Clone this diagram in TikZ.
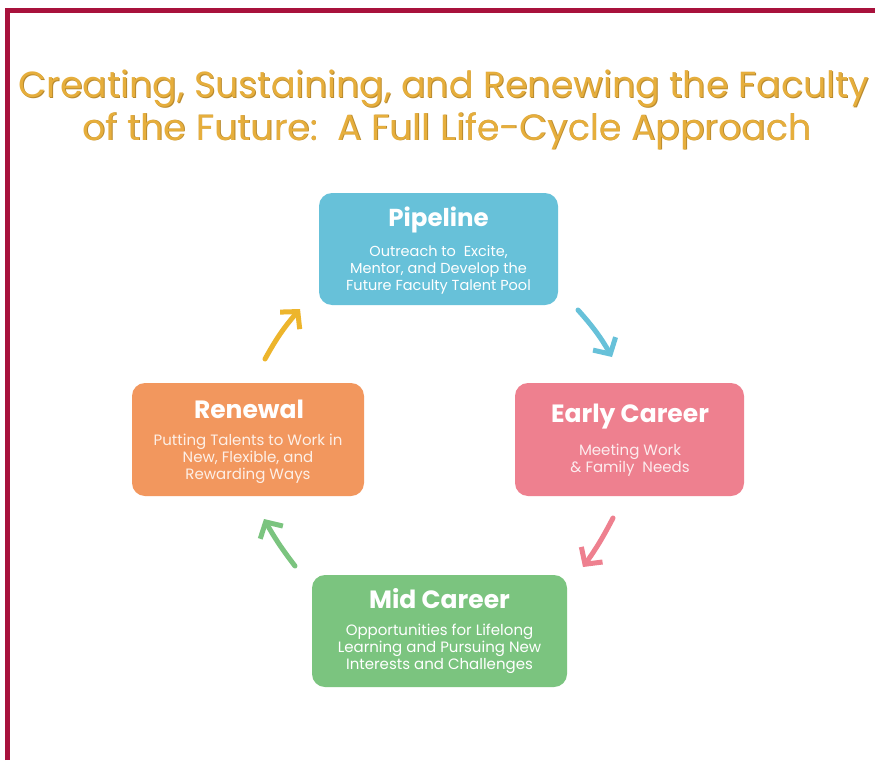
\documentclass[tikz,border=0pt]{standalone}
\usepackage{fontspec}
\setmainfont{Poppins}
\usetikzlibrary{arrows.meta}
\definecolor{frame}{HTML}{A8123C}
\definecolor{gold}{HTML}{E6AE3C}
\definecolor{golddark}{HTML}{B98A2E}
\definecolor{cblue}{HTML}{67C1D9}
\definecolor{cpink}{HTML}{EE808F}
\definecolor{corange}{HTML}{F2975E}
\definecolor{cgreen}{HTML}{7BC47F}
\definecolor{cyellow}{HTML}{EDB52C}
\tikzset{
  ttl/.style={font=\bfseries\fontsize{25}{29}\selectfont, text=white},
  body/.style={font=\fontsize{15}{17}\selectfont, text=white, align=center},
  cyc/.style={line width=5pt, line cap=round, -{Straight Barb[length=12pt,width=26pt,line width=5pt]}},
  title/.style={font=\fontsize{36.3}{44}\selectfont, text=gold, align=center}
}
\begin{document}
\begin{tikzpicture}[x=1pt,y=-1pt]
\useasboundingbox (0,0) rectangle (875,760);
\fill[white] (0,0) rectangle (875,760);
\draw[frame, line width=5pt] (7.5,760) -- (7.5,11) -- (877,11);
% title
\node[title, text=golddark] (t1s) at (444.8,89.8) {Creating, Sustaining, and Renewing the Faculty};
\node[title] (t1) at (444,89) {Creating, Sustaining, and Renewing the Faculty};
\node[title, text=golddark] (t2s) at (447.8,131.8) {of the Future:\ \ A Full Life-Cycle Approach};
\node[title] (t2) at (447,131) {of the Future:\ \ A Full Life-Cycle Approach};
% boxes
\fill[cblue, rounded corners=13pt] (319,193) rectangle (558,305);
\fill[cpink, rounded corners=13pt] (515,383) rectangle (744,496);
\fill[corange, rounded corners=13pt] (132,383) rectangle (364,496);
\fill[cgreen, rounded corners=13pt] (312,575) rectangle (567,687);
\node[ttl, font=\bfseries\fontsize{24.5}{29}\selectfont] (pt) at (438.5,220) {Pipeline};
\node[body, font=\fontsize{14.5}{17}\selectfont] (pb) at (438.5,270) {Outreach to\ \ Excite,\\Mentor, and Develop the\\Future Faculty Talent Pool};
\node[ttl] (et) at (630,417) {Early Career};
\node[body, text opacity=0.85] (eb) at (630,460) {Meeting Work\\\& Family\ \ Needs};
\node[ttl] (rt) at (249,409) {Renewal};
\node[body, text opacity=0.85] (rb) at (248,459) {Putting Talents to Work in\\New, Flexible, and\\Rewarding Ways};
\node[ttl] (mt) at (439.5,599) {Mid Career};
\node[body] (mb) at (439.5,649) {Opportunities for Lifelong\\Learning and Pursuing New\\Interests and Challenges};
% arrows
\coordinate (b1) at (578,310);
\coordinate (b2) at (612,357);
\coordinate (p1) at (613,518);
\coordinate (p2) at (583,567);
\coordinate (g1) at (295,566);
\coordinate (g2) at (264,519);
\coordinate (y1) at (265,359);
\coordinate (y2) at (300,309);
\draw[cyc, cblue] (b1) to[bend left=6] (b2);
\draw[cyc, cpink] (p1) to[bend left=4] (p2);
\draw[cyc, cgreen] (g1) to[bend left=4] (g2);
\draw[cyc, cyellow] (y1) to[bend left=6] (y2);
\end{tikzpicture}
\end{document}
